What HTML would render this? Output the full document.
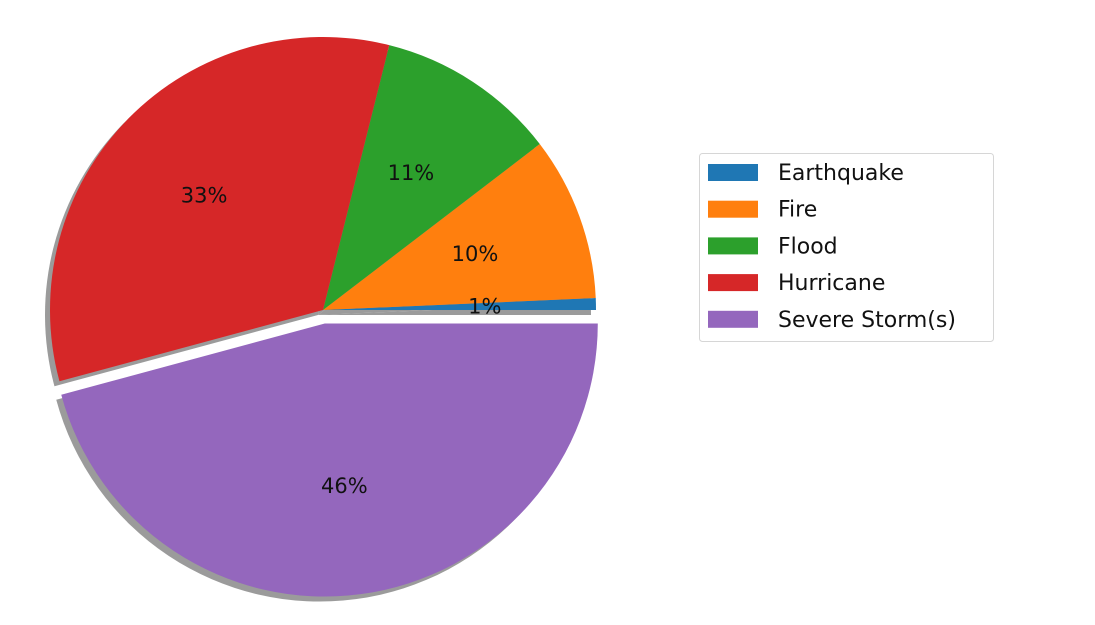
<!DOCTYPE html>
<html><head><meta charset="utf-8"><style>
body{margin:0;background:#fff;}
svg{display:block;font-family:"DejaVu Sans","Liberation Sans",sans-serif;}
</style></head><body>
<svg id="chart" width="1095" height="625" viewBox="0 0 1095 625">
<g id="shadows"></g>
<g id="slices"></g>
<g id="labels"></g>
<g id="legend">
<rect x="699.5" y="153.5" width="294" height="188" rx="3" fill="#fff" stroke="#d6d6d6"/>
</g>
</svg>
<script>
const categories=["Earthquake","Fire","Flood","Hurricane","Severe Storm(s)"];
const values=[0.7,9.7,10.7,33.1,45.8];
const pctLabels=["1%","10%","11%","33%","46%"];
const explode=[0,0,0,0,0.05];
const colors=["#1f77b4","#ff7f0e","#2ca02c","#d62728","#9467bd"];
const cx=323,cy=310,R=273;
const NS="http://www.w3.org/2000/svg";
const total=values.reduce((a,b)=>a+b,0);
function pt(a,r,ox,oy){return [ox+r*Math.cos(a),oy-r*Math.sin(a)];}
function arc(a0,a1,ox,oy){
 const p0=pt(a0,R,ox,oy),p1=pt(a1,R,ox,oy);
 const large=(a1-a0)>Math.PI?1:0;
 return `M${ox},${oy}L${p0[0]},${p0[1]}A${R},${R} 0 ${large} 0 ${p1[0]},${p1[1]}Z`;
}
let cum=0;
const sh=document.getElementById('shadows'),sl=document.getElementById('slices'),lb=document.getElementById('labels');
values.forEach((v,i)=>{
 const a0=cum/total*2*Math.PI; cum+=v; const a1=cum/total*2*Math.PI;
 const mid=(a0+a1)/2;
 const ox=cx+explode[i]*R*Math.cos(mid), oy=cy-explode[i]*R*Math.sin(mid);
 const s=document.createElementNS(NS,'path');
 s.setAttribute('d',arc(a0,a1,ox-5,oy+5));
 s.setAttribute('fill','#8a8a8a');
 s.setAttribute('opacity','0.85');
 
 
 sh.appendChild(s);
 const p=document.createElementNS(NS,'path');
 p.setAttribute('d',arc(a0,a1,ox,oy));
 p.setAttribute('fill',colors[i]);
 
 
 sl.appendChild(p);
 const lp=pt(mid,0.6*R,ox,oy);
 const t=document.createElementNS(NS,'text');
 t.setAttribute('x',lp[0]-2);t.setAttribute('y',lp[1]+7);
 t.setAttribute('text-anchor','middle');t.setAttribute('font-size','21');t.setAttribute('fill','#111');
 t.textContent=pctLabels[i];
 
 
 lb.appendChild(t);
});
const lg=document.getElementById('legend');
categories.forEach((c,i)=>{
 const y=172+i*36.7;
 const r=document.createElementNS(NS,'rect');
 r.setAttribute('x',708);r.setAttribute('y',y-8);r.setAttribute('width',50);r.setAttribute('height',17);
 r.setAttribute('fill',colors[i]);
 
 
 lg.appendChild(r);
 const t=document.createElementNS(NS,'text');
 t.setAttribute('x',778);t.setAttribute('y',y+8);t.setAttribute('font-size','22');t.setAttribute('fill','#111');
 t.textContent=c;
 
 
 lg.appendChild(t);
});
</script>
</body></html>
